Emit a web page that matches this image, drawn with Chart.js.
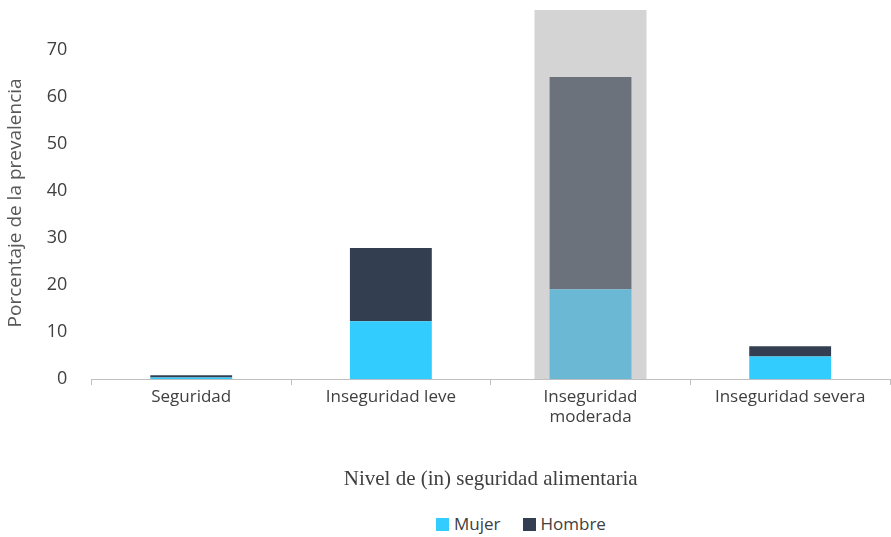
<!DOCTYPE html>
<html><head><meta charset="utf-8">
<script src="https://cdn.jsdelivr.net/npm/chart.js@4"></script>
<style>
body{margin:0;background:#fff;font-family:"Open Sans",sans-serif}
#wrap{position:relative;width:891px;height:537px}
#legend{position:absolute;top:512px;left:436px;font-size:17px;color:#404040;display:flex;gap:22px}
#legend span i{display:inline-block;width:13px;height:13px;margin-right:5px;vertical-align:-1px}
</style></head><body>
<div id="wrap"><canvas id="c" width="891" height="496" style="width:891px;height:496px"></canvas>
<div id="legend"><span><i style="background:#33ccff"></i>Mujer</span><span><i style="background:#333f50"></i>Hombre</span></div></div>
<script>
// Prevalencia por nivel de (in) seguridad alimentaria
const categories = ['Seguridad', 'Inseguridad leve', ['Inseguridad', 'moderada'], 'Inseguridad severa'];
const mujer = [0.3, 12.3, 19.1, 4.8];
const hombre = [0.5, 15.6, 45.2, 2.2];
const yTicks = [0, 10, 20, 30, 40, 50, 60, 70];
const highlight = 2;

const mujerColors = mujer.map((v, i) => i === highlight ? '#6bb8d4' : '#33ccff');
const hombreColors = hombre.map((v, i) => i === highlight ? '#6b727c' : '#333f50');

const highlightBox = {
    id: 'highlightBox',
    beforeDatasetsDraw(chart) {
        const x = chart.scales.x, y = chart.scales.y, ctx = chart.ctx;
        const cx = x.getPixelForValue(highlight);
        const w = 112;
        ctx.save();
        ctx.fillStyle = '#d4d4d4';
        ctx.fillRect(cx - w / 2, 10, w, y.getPixelForValue(0) - 10);
        ctx.restore();
    }
};

new Chart(document.getElementById('c'), {
    type: 'bar',
    data: {
        labels: categories,
        datasets: [
            { label: 'Mujer', data: mujer, backgroundColor: mujerColors },
            { label: 'Hombre', data: hombre, backgroundColor: hombreColors }
        ]
    },
    options: {
        responsive: false,
        animation: false,
        layout: { padding: { top: 10, right: 1 } },
        datasets: { bar: { barPercentage: 0.82, categoryPercentage: 0.5 } },
        plugins: { legend: { display: false }, tooltip: { enabled: false } },
        scales: {
            x: {
                stacked: true,
                grid: { display: true, drawOnChartArea: false, offset: true, color: '#bfbfbf', tickLength: 6 },
                border: { color: '#bfbfbf' },
                ticks: { color: '#404040', font: { family: 'Open Sans', size: 17 }, maxRotation: 0, autoSkip: false, padding: 2 },
                title: { display: true, text: 'Nivel de (in) seguridad alimentaria', color: '#404040',
                         font: { family: 'Liberation Serif', size: 21 }, padding: { top: 37, bottom: 4 } }
            },
            y: {
                stacked: true, min: 0, max: 75,
                afterBuildTicks: s => { s.ticks = yTicks.map(v => ({ value: v })); },
                grid: { display: false },
                border: { display: false },
                ticks: { color: '#404040', font: { family: 'Open Sans', size: 18 }, padding: 16 },
                title: { display: true, text: 'Porcentaje de la prevalencia', color: '#595959',
                         font: { family: 'Open Sans', size: 19 } }
            }
        }
    },
    plugins: [highlightBox]
});
</script></body></html>
